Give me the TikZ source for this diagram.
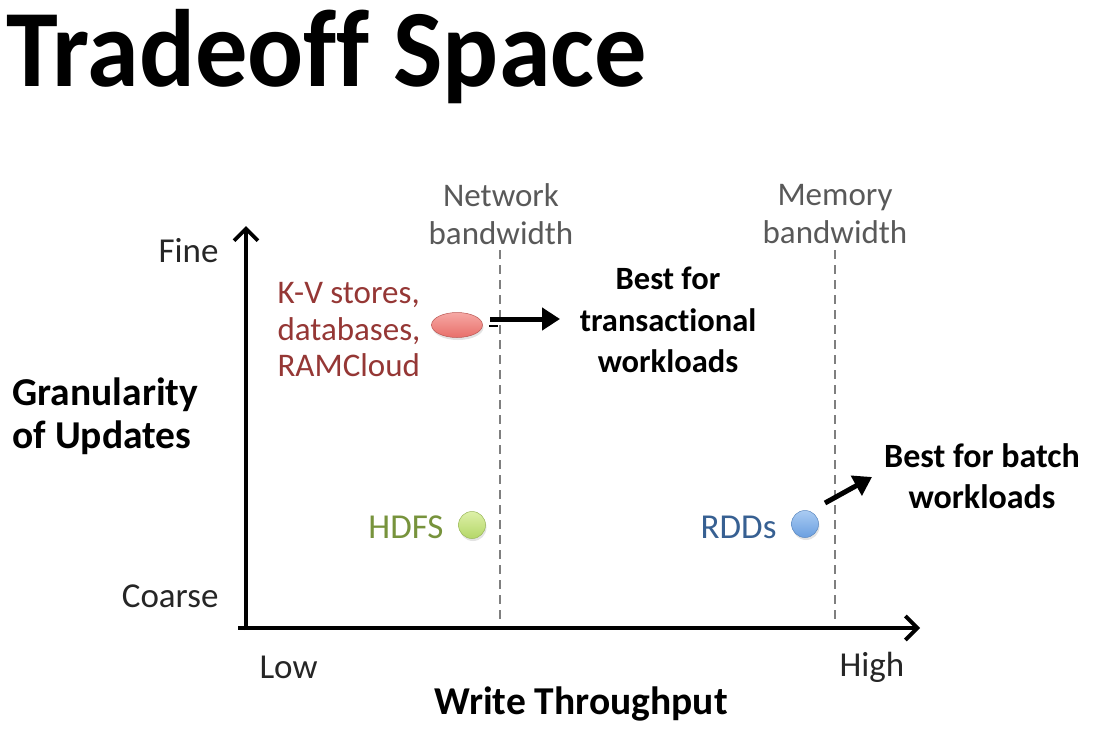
\documentclass[tikz,border=0pt]{standalone}
\usepackage{fontspec}
\setmainfont{Carlito}[Ligatures=NoCommon]
\usetikzlibrary{arrows.meta,shadows,shapes.geometric}
\definecolor{lbl}{HTML}{262626}
\definecolor{gtxt}{HTML}{595959}
\definecolor{dline}{HTML}{7F7F7F}
\definecolor{redtxt}{HTML}{953735}
\definecolor{greentxt}{HTML}{77933C}
\definecolor{bluetxt}{HTML}{376092}
\definecolor{redtop}{HTML}{F6A8A4}
\definecolor{redbot}{HTML}{E86F6A}
\definecolor{greentop}{HTML}{DDF0A8}
\definecolor{greenbot}{HTML}{B4D768}
\definecolor{bluetop}{HTML}{AACBF2}
\definecolor{bluebot}{HTML}{6A9FE0}
\tikzset{
  axis/.style={line width=3.8pt,-{Straight Barb[length=12pt,width=24pt,line width=3.8pt]}},
  limit/.style={dline,line width=1.8pt,dash pattern=on 9pt off 6pt},
  gray label/.style={text=gtxt,font=\fontsize{33}{38}\selectfont,align=center},
  axlabel/.style={text=lbl,font=\fontsize{35}{40}\selectfont},
  bold label/.style={font=\bfseries\fontsize{34}{41.5}\selectfont,align=center},
  big label/.style={font=\bfseries\fontsize{39.5}{43}\selectfont,align=left},
  pointer/.style={line width=5pt,-{Triangle[length=18pt,width=22pt]}},
  soft shadow/.style={drop shadow={shadow xshift=1pt,shadow yshift=-2.5pt,opacity=0.22}},
  dot/.style={circle,minimum size=27pt,inner sep=0pt,line width=0.5pt,soft shadow},
}
\begin{document}
\begin{tikzpicture}[x=1pt,y=-1pt]
\useasboundingbox (0,0) rectangle (1102,739);
% title
\node[anchor=base west,inner sep=0pt,font=\bfseries\fontsize{110}{116}\selectfont,xscale=0.95] (title) at (6,86) {Tradeoff Space};
% axes
\coordinate (origin) at (246,630);
\coordinate (ytop) at (246,226);
\coordinate (xstart) at (238,628);
\coordinate (xend) at (920,628);
\draw[axis] (origin) -- (ytop);
\draw[axis] (xstart) -- (xend);
% limits
\coordinate (n1) at (500,250); \coordinate (n2) at (500,620);
\coordinate (m1) at (835,250); \coordinate (m2) at (835,620);
\draw[limit] (n1) -- (n2);
\draw[limit] (m1) -- (m2);
\node[gray label] (net) at (501,214) {Network\\bandwidth};
\node[gray label] (mem) at (835,214) {Memory\\bandwidth};
% axis labels
\node[axlabel,anchor=east] (fine) at (222,251) {Fine};
\node[axlabel,anchor=east] (coarse) at (222,596) {Coarse};
\node[axlabel,anchor=west] (low) at (256,667) {Low};
\node[axlabel,anchor=west] (high) at (836,667) {High};
\node[big label,anchor=center] (wt) at (581,704) {Write Throughput};
\node[big label,anchor=west] (gran) at (9,416) {Granularity\\of Updates};
% K-V
\node[text=redtxt,font=\fontsize{33}{36.5}\selectfont,align=left,anchor=west] (kv) at (274,330) {K-V stores,\\databases,\\RAMCloud};
\node[ellipse,minimum width=51pt,minimum height=25pt,inner sep=0pt,draw=redbot!80!black,line width=0.5pt,top color=redtop,bottom color=redbot,soft shadow] (kvdot) at (457,325) {};
\coordinate (a1) at (490,319);
\coordinate (a2) at (560,319);
\draw[pointer] (a1) -- (a2);
\coordinate (d1) at (489,326); \coordinate (d2) at (498,326);
\draw[line width=2pt] (d1) -- (d2);
\node[bold label,font=\bfseries\fontsize{32.5}{41.5}\selectfont] (trans) at (668,320) {Best for\\transactional\\workloads};
% HDFS
\node[text=greentxt,font=\fontsize{35}{40}\selectfont,anchor=east] (hdfs) at (447,527) {HDFS};
\node[dot,draw=greenbot!85!black,top color=greentop,bottom color=greenbot] (hdot) at (472,525) {};
% RDDs
\node[text=bluetxt,font=\fontsize{35}{40}\selectfont,anchor=east] (rdd) at (780,527) {RDDs};
\node[dot,draw=bluebot!85!black,top color=bluetop,bottom color=bluebot] (rdot) at (805,524) {};
\coordinate (b1) at (825,503);
\coordinate (b2) at (872,477);
\draw[pointer] (b1) -- (b2);
\node[bold label] (batch) at (982,476) {Best for batch\\workloads};
\end{tikzpicture}
\end{document}
